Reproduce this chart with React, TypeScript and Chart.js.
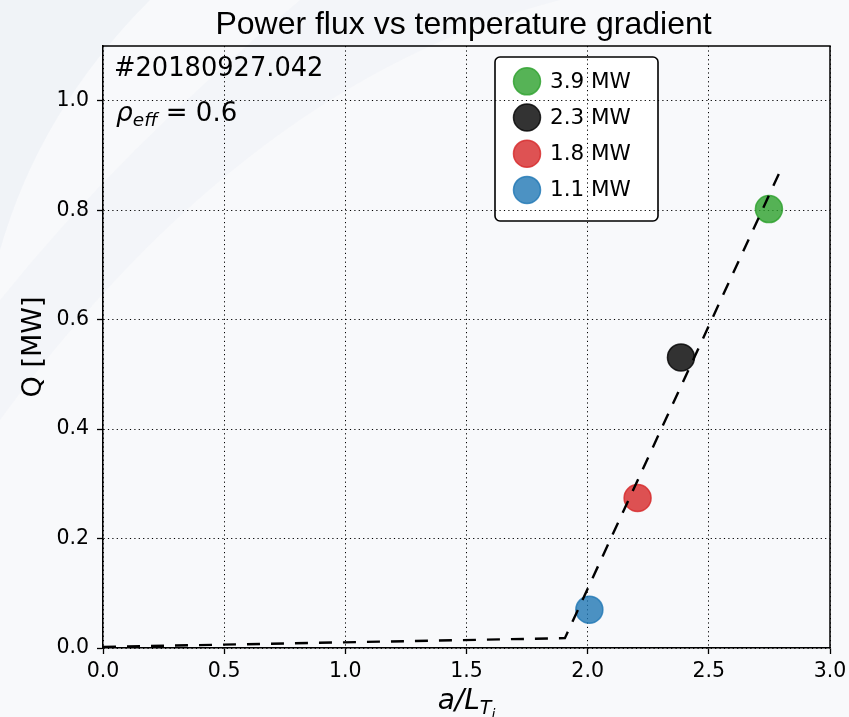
import React, { useEffect, useRef } from "react";
import { Chart, registerables } from "chart.js";

Chart.register(...registerables);

// ---------- data ----------
const titleText = "Power flux vs temperature gradient";
const shotLabel = "#20180927.042";
const rhoValue = "0.6";
const heatingPowers = ["3.9 MW", "2.3 MW", "1.8 MW", "1.1 MW"];
const gradientValues = [2.748, 2.385, 2.206, 2.007];
const fluxValues = [0.802, 0.531, 0.274, 0.07];
const pointColors = [
  "rgba(44,160,44,0.8)",
  "rgba(0,0,0,0.8)",
  "rgba(214,39,40,0.8)",
  "rgba(31,119,180,0.8)",
];
const fitX = [0, 1.906, 2.796];
const fitY = [0.002, 0.018, 0.873];
const xTickValues = [0, 0.5, 1.0, 1.5, 2.0, 2.5, 3.0];
const yTickValues = [0, 0.2, 0.4, 0.6, 0.8, 1.0];

const FONT = "'DejaVu Sans', 'Liberation Sans', sans-serif";
const TITLE_FONT = "'Liberation Sans', Arial, sans-serif";
const BG = "#f8f9fb";

type Run = { t: string; font: string; dy?: number };

function runsWidth(ctx: CanvasRenderingContext2D, runs: Run[]) {
  let w = 0;
  for (const r of runs) {
    ctx.font = r.font;
    w += ctx.measureText(r.t).width;
  }
  return w;
}

function drawRuns(ctx: CanvasRenderingContext2D, x: number, y: number, runs: Run[]) {
  let cx = x;
  for (const r of runs) {
    ctx.font = r.font;
    ctx.fillText(r.t, cx, y + (r.dy || 0));
    cx += ctx.measureText(r.t).width;
  }
}

const decorPlugin = {
  id: "decor",
  beforeDraw(chart: any) {
    const ctx: CanvasRenderingContext2D = chart.ctx;
    const { width, height } = chart;
    ctx.save();
    ctx.fillStyle = BG;
    ctx.fillRect(0, 0, width, height);

    // faint watermark swoosh
    ctx.fillStyle = "rgba(226,232,240,0.35)";
    ctx.beginPath();
    ctx.moveTo(0, 0);
    ctx.lineTo(150, 0);
    ctx.quadraticCurveTo(40, 110, 0, 250);
    ctx.closePath();
    ctx.fill();
    ctx.fillStyle = "rgba(226,232,240,0.22)";
    ctx.beginPath();
    ctx.moveTo(300, 0);
    ctx.lineTo(560, 0);
    ctx.quadraticCurveTo(250, 80, 0, 420);
    ctx.lineTo(0, 300);
    ctx.quadraticCurveTo(120, 150, 300, 0);
    ctx.closePath();
    ctx.fill();

    // legend (drawn beneath grid, as in the reference)
    const lx = 495, ly = 57, lw = 163, lh = 164, r = 5;
    ctx.beginPath();
    ctx.moveTo(lx + r, ly);
    ctx.arcTo(lx + lw, ly, lx + lw, ly + lh, r);
    ctx.arcTo(lx + lw, ly + lh, lx, ly + lh, r);
    ctx.arcTo(lx, ly + lh, lx, ly, r);
    ctx.arcTo(lx, ly, lx + lw, ly, r);
    ctx.closePath();
    ctx.fillStyle = "rgba(255,255,255,0.9)";
    ctx.fill();
    ctx.lineWidth = 1.6;
    ctx.strokeStyle = "#000";
    ctx.stroke();

    heatingPowers.forEach((label, i) => {
      const cy = 81.3 + i * 36.2;
      ctx.beginPath();
      ctx.arc(527, cy, 13.5, 0, Math.PI * 2);
      ctx.fillStyle = pointColors[i];
      ctx.fill();
      ctx.lineWidth = 1.5;
      ctx.strokeStyle = pointColors[i];
      ctx.stroke();
      ctx.fillStyle = "#000";
      ctx.font = `21.5px ${FONT}`;
      ctx.textAlign = "left";
      ctx.textBaseline = "middle";
      ctx.fillText(label, 550, cy + 1);
    });
    ctx.restore();
  },
  afterDraw(chart: any) {
    const ctx: CanvasRenderingContext2D = chart.ctx;
    const { left, right, top, bottom } = chart.chartArea;
    ctx.save();
    // top and right spines
    ctx.strokeStyle = "#000";
    ctx.lineWidth = 1.5;
    ctx.beginPath();
    ctx.moveTo(left, top);
    ctx.lineTo(right, top);
    ctx.lineTo(right, bottom);
    ctx.stroke();

    ctx.fillStyle = "#000";
    // title
    ctx.font = `32px ${TITLE_FONT}`;
    ctx.textAlign = "center";
    ctx.textBaseline = "alphabetic";
    ctx.fillText(titleText, (left + right) / 2 - 3, 34);

    // annotations
    ctx.textAlign = "left";
    ctx.font = `25.7px ${FONT}`;
    ctx.fillText(shotLabel, 114, 76);
    drawRuns(ctx, 116, 121, [
      { t: "ρ", font: `italic 26.5px ${FONT}` },
      { t: "eff", font: `italic 18.5px ${FONT}`, dy: 5 },
      { t: " = " + rhoValue, font: `26px ${FONT}` },
    ]);

    // x label
    const xRuns: Run[] = [
      { t: "a/L", font: `italic 28px ${FONT}` },
      { t: "T", font: `italic 19px ${FONT}`, dy: 5 },
      { t: "i", font: `italic 14px ${FONT}`, dy: 10 },
    ];
    const w = runsWidth(ctx, xRuns);
    drawRuns(ctx, (left + right) / 2 - w / 2, 709, xRuns);

    // y label
    ctx.translate(34, (top + bottom) / 2);
    ctx.rotate(-Math.PI / 2);
    ctx.textAlign = "center";
    ctx.textBaseline = "middle";
    ctx.font = `27px ${FONT}`;
    ctx.fillText("Q [MW]", 0, 0);
    ctx.restore();
  },
};

export default function App() {
  const ref = useRef<HTMLCanvasElement | null>(null);
  useEffect(() => {
    const canvas = ref.current;
    if (!canvas) return;
    const gridCommon = {
      color: "#000",
      lineWidth: 1,
      tickLength: 6,
      tickColor: "#000",
      tickWidth: 1.3,
      tickBorderDash: [],
    };
    const chart = new Chart(canvas, {
      type: "scatter",
      data: {
        datasets: [
          {
            label: "fit",
            data: fitX.map((x, i) => ({ x, y: fitY[i] })),
            showLine: true,
            borderColor: "#000",
            backgroundColor: "#000",
            borderWidth: 2.4,
            borderDash: [13, 11],
            pointRadius: 0,
            fill: false,
            tension: 0,
          } as any,
          ...heatingPowers.map((label, i) => ({
            label,
            data: [{ x: gradientValues[i], y: fluxValues[i] }],
            backgroundColor: pointColors[i],
            borderColor: pointColors[i],
            borderWidth: 1.5,
            pointRadius: 13.5,
          })),
        ],
      },
      options: {
        responsive: false,
        animation: false,
        events: [],
        layout: { padding: { top: 46, right: 19, left: 0, bottom: 0 } },
        plugins: {
          legend: { display: false },
          title: { display: false },
          tooltip: { enabled: false },
        },
        scales: {
          x: {
            type: "linear",
            min: 0,
            max: 3,
            afterFit: (s: any) => {
              s.height = 69;
              s.paddingLeft = 0;
              s.paddingRight = 0;
            },
            afterBuildTicks: (s: any) => {
              s.ticks = xTickValues.map((v) => ({ value: v }));
            },
            ticks: {
              color: "#000",
              font: { family: FONT, size: 20.5 },
              padding: 5,
              maxRotation: 0,
              autoSkip: false,
              callback: (v: any) => Number(v).toFixed(1),
            },
            grid: gridCommon,
            border: { color: "#000", width: 1.5, dash: [1.2, 3.2] },
          },
          y: {
            type: "linear",
            min: 0,
            max: 1.1,
            afterFit: (s: any) => {
              s.width = 103;
              s.paddingTop = 0;
              s.paddingBottom = 0;
            },
            afterBuildTicks: (s: any) => {
              s.ticks = yTickValues.map((v) => ({ value: v }));
            },
            ticks: {
              color: "#000",
              font: { family: FONT, size: 20.5 },
              padding: 8,
              autoSkip: false,
              callback: (v: any) => Number(v).toFixed(1),
            },
            grid: gridCommon,
            border: { color: "#000", width: 1.5, dash: [1.2, 3.2] },
          },
        },
      } as any,
      plugins: [decorPlugin],
    });
    return () => chart.destroy();
  }, []);
  return (
    <div style={{ position: "absolute", left: 0, top: 0, width: 849, height: 717 }}>
      <canvas ref={ref} width={849} height={717} style={{ display: "block" }} />
    </div>
  );
}
